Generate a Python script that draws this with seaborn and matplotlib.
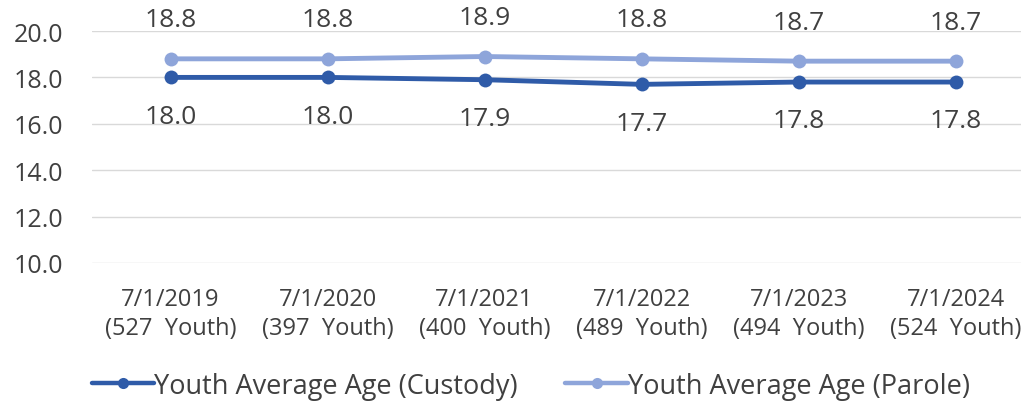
import matplotlib
matplotlib.use("Agg")
import matplotlib.pyplot as plt
import seaborn as sns
import pandas as pd

# Snapshot dates and youth counts
dates = ["7/1/2019", "7/1/2020", "7/1/2021", "7/1/2022", "7/1/2023", "7/1/2024"]
youth_counts = [527, 397, 400, 489, 494, 524]

# Average age per snapshot
custody_age = [18.0, 18.0, 17.9, 17.7, 17.8, 17.8]
parole_age = [18.8, 18.8, 18.9, 18.8, 18.7, 18.7]

series_names = ["Youth Average Age (Custody)", "Youth Average Age (Parole)"]
y_ticks = [10.0, 12.0, 14.0, 16.0, 18.0, 20.0]

tick_labels = [f"{d}\n({n}  Youth)" for d, n in zip(dates, youth_counts)]

df = pd.DataFrame({
    "pos": list(range(len(dates))) * 2,
    "age": custody_age + parole_age,
    "series": [series_names[0]] * len(dates) + [series_names[1]] * len(dates),
})

sns.set_theme(style="white")
plt.rcParams["font.family"] = ["Open Sans", "DejaVu Sans"]

text_color = "#404040"
palette = {series_names[0]: "#2F5BA8", series_names[1]: "#8EA5DA"}

fig = plt.figure(figsize=(10.21, 4.06), dpi=100)
ax = fig.add_axes([92 / 1021, (406 - 264) / 406, 942 / 1021, 232 / 406])

sns.lineplot(data=df, x="pos", y="age", hue="series", palette=palette,
             marker="o", markersize=10, linewidth=3.5, markeredgewidth=0,
             ax=ax, zorder=3)

ax.set_xlim(-0.5, len(dates) - 0.5)
ax.set_ylim(10, 20)
ax.set_yticks(y_ticks)
ax.set_yticklabels([f"{v:.1f}" for v in y_ticks])
ax.set_xticks(range(len(dates)))
ax.set_xticklabels(tick_labels, linespacing=1.3)
ax.tick_params(axis="both", length=0, colors=text_color)
ax.tick_params(axis="x", pad=17, labelsize=17)
ax.tick_params(axis="y", pad=21, labelsize=18)

ax.grid(axis="y", color="#D9D9D9", linewidth=1)
ax.set_axisbelow(True)
for s in ax.spines.values():
    s.set_visible(False)
ax.set_xlabel("")
ax.set_ylabel("")

# Value labels: parole above the line, custody below
for i, v in enumerate(parole_age):
    ax.annotate(f"{v:.1f}", (i, v), xytext=(0, 28), textcoords="offset points",
                ha="center", va="center", fontsize=19, color=text_color)
for i, v in enumerate(custody_age):
    ax.annotate(f"{v:.1f}", (i, v), xytext=(0, -28), textcoords="offset points",
                ha="center", va="center", fontsize=19, color=text_color)

handles, labels = ax.get_legend_handles_labels()
for h in handles:
    h.set_markersize(8)
    h.set_linewidth(3.2)
ax.legend(handles, labels, loc="center", bbox_to_anchor=(0.52, 0.048),
          bbox_transform=fig.transFigure, ncol=2, frameon=False,
          fontsize=19.5, labelcolor=text_color, handlelength=2.3,
          handletextpad=0.0, columnspacing=1.75)

fig.savefig("out.png", dpi=100)
